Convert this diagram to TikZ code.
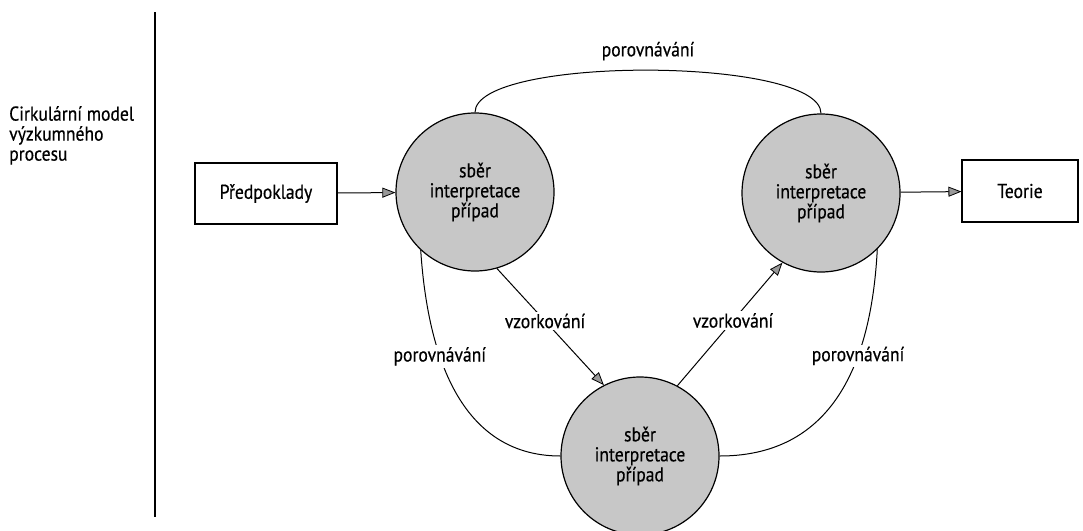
\documentclass[tikz,border=0pt]{standalone}
\usepackage{fontspec}
\setmainfont{PT Sans}[FakeStretch=0.88,FakeBold=0.5]
\usetikzlibrary{arrows.meta}

\begin{document}
\begin{tikzpicture}[x=1pt,y=-1pt,font=\fontsize{20}{20}\selectfont]
  \tikzstyle{StageStyle}=[circle,draw,line width=1.2pt,fill=black!22,minimum size=158pt,inner sep=0pt,align=center]
  \tikzstyle{BoxStyle}=[rectangle,draw,line width=1.1pt]
  \tikzstyle{LabelStyle}=[fill=white,inner sep=2pt]
  \tikzstyle{EdgeStyle}=[line width=1pt]
  \tikzstyle{flow}=[EdgeStyle,-{Triangle[length=13pt,width=10pt,fill=black!40,line width=0.8pt]}]
  \useasboundingbox (0,0) rectangle (1083,530);
  \draw[line width=1.6pt] (155,12) -- (155,517);
  \node[align=left,anchor=north west,inner sep=3pt] (title) at (6,103) {Cirkulární model\\výzkumného\\procesu};
  \node[BoxStyle,minimum width=142pt,minimum height=61pt] (P) at (266,193.5) {Předpoklady};
  \node[BoxStyle,minimum width=116pt,minimum height=62pt] (T) at (1020,191) {Teorie};
  \node[StageStyle] (A) at (475,192) {sběr\\interpretace\\případ};
  \node[StageStyle] (B) at (821,193) {sběr\\interpretace\\případ};
  \node[StageStyle] (C) at (640,456) {sběr\\interpretace\\případ};
  \draw[flow] (P) -- (A);
  \draw[flow] (B) -- (T);
  \draw[flow] (A.286) -- node[LabelStyle,pos=0.45]{vzorkování} (C.117);
  \draw[flow] (C.62) -- node[LabelStyle,pos=0.53]{vzorkování} (B.241);
  \draw[EdgeStyle] (A.north) .. controls +(0,-57) and +(0,-57) .. (B.north)
    node[midway,above=6pt]{porovnávání};
  \draw[EdgeStyle] (A.227) .. controls (430,390) and (480,456) .. (C.west)
    node[LabelStyle,pos=0.3]{porovnávání};
  \draw[EdgeStyle] (B.315) .. controls (870,390) and (815,456) .. (C.east)
    node[LabelStyle,pos=0.3]{porovnávání};
%  \draw (12,12) -- (40,12);
\end{tikzpicture}
\end{document}
